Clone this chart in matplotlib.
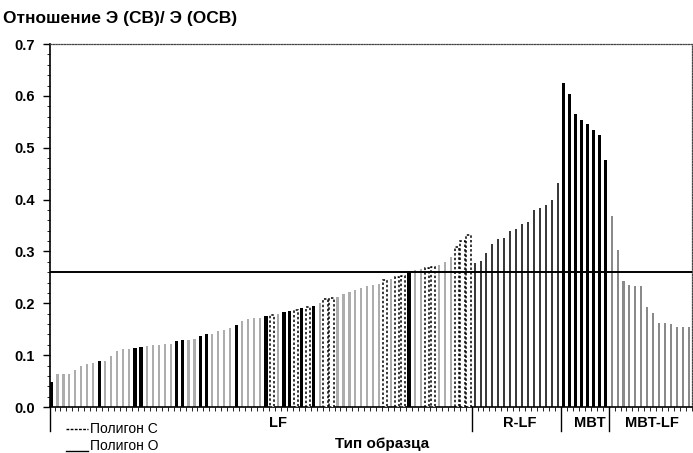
import matplotlib
matplotlib.use("Agg")
import matplotlib.pyplot as plt
from matplotlib.lines import Line2D
import numpy as np

plt.rcParams['font.family'] = ['Liberation Sans', 'DejaVu Sans']

# Ratio values per sample, grouped by sample type
lf_values = [0.048, 0.063, 0.063, 0.063, 0.072, 0.079, 0.082, 0.085, 0.088, 0.088,
             0.098, 0.108, 0.111, 0.112, 0.113, 0.115, 0.118, 0.120, 0.120, 0.121,
             0.122, 0.128, 0.129, 0.129, 0.132, 0.137, 0.140, 0.141, 0.146, 0.149,
             0.152, 0.158, 0.166, 0.170, 0.171, 0.172, 0.176, 0.178, 0.180, 0.183,
             0.185, 0.187, 0.190, 0.192, 0.195, 0.200, 0.208, 0.210, 0.213, 0.218,
             0.222, 0.226, 0.230, 0.233, 0.236, 0.238, 0.245, 0.247, 0.250, 0.252,
             0.262, 0.264, 0.266, 0.268, 0.270, 0.273, 0.280, 0.290, 0.308, 0.320,
             0.332]
# K = Полигон О, D = Полигон С, G = other landfills
lf_kind = ['K', 'G', 'G', 'G', 'G', 'G', 'G', 'G', 'K', 'G',
           'G', 'G', 'G', 'G', 'K', 'K', 'G', 'G', 'G', 'G',
           'G', 'K', 'K', 'G', 'G', 'K', 'K', 'G', 'G', 'G',
           'G', 'K', 'G', 'G', 'G', 'G', 'K', 'D', 'G', 'K',
           'K', 'D', 'K', 'D', 'K', 'G', 'D', 'D', 'G', 'G',
           'G', 'G', 'G', 'G', 'G', 'G', 'D', 'G', 'D', 'D',
           'K', 'G', 'G', 'D', 'D', 'G', 'G', 'G', 'D', 'D',
           'D']
rlf_values = [0.278, 0.282, 0.297, 0.315, 0.324, 0.326, 0.340, 0.344, 0.353, 0.356,
              0.380, 0.384, 0.390, 0.400, 0.432]
mbt_values = [0.625, 0.604, 0.566, 0.554, 0.546, 0.535, 0.525, 0.476]
mbtlf_values = [0.368, 0.302, 0.243, 0.235, 0.233, 0.233, 0.193, 0.181, 0.162, 0.162,
                0.160, 0.155, 0.155, 0.155]

group_names = ['LF', 'R-LF', 'MBT', 'MBT-LF']
reference_level = 0.26

fig = plt.figure(figsize=(6.93, 4.53), dpi=100)
ax = fig.add_axes([0.0722, 0.1015, 0.9264, 0.8013])

n_lf, n_rlf, n_mbt, n_mbtlf = len(lf_values), len(rlf_values), len(mbt_values), len(mbtlf_values)
x_lf = np.arange(n_lf)
x_rlf = np.arange(n_rlf) + n_lf
x_mbt = np.arange(n_mbt) + n_lf + n_rlf
x_mbtlf = np.arange(n_mbtlf) + n_lf + n_rlf + n_mbt
n_total = n_lf + n_rlf + n_mbt + n_mbtlf

lf_values = np.array(lf_values)
kinds = np.array(lf_kind)
g = kinds == 'G'
k = kinds == 'K'
d = kinds == 'D'
ax.bar(x_lf[g], lf_values[g], width=0.36, color='#adadad', linewidth=0, zorder=2)
ax.bar(x_lf[k], lf_values[k], width=0.55, color='black', linewidth=0, zorder=3)
ax.bar(x_lf[d], lf_values[d], width=0.72, facecolor='white', edgecolor='black',
       linewidth=1.1, linestyle=(0, (1.6, 1.4)), zorder=3)
ax.bar(x_rlf, rlf_values, width=0.34, color='#3a3a3a', linewidth=0, zorder=2)
ax.bar(x_mbt, mbt_values, width=0.52, color='black', linewidth=0, zorder=2)
ax.bar(x_mbtlf, mbtlf_values, width=0.34, color='#8a8a8a', linewidth=0, zorder=2)

ax.axhline(reference_level, color='black', lw=1.4, zorder=4)

ax.set_xlim(-0.25, n_total - 0.6)
ax.set_ylim(0, 0.7)

ax.spines['left'].set_linewidth(1.2)
ax.spines['bottom'].set_linewidth(1.2)
for s in ('top', 'right'):
    ax.spines[s].set_linestyle((0, (1, 1.2)))
    ax.spines[s].set_linewidth(0.9)
    ax.spines[s].set_color('#444444')

ax.set_yticks(np.arange(0, 0.71, 0.1))
ax.set_yticklabels([f'{v:.1f}' for v in np.arange(0, 0.71, 0.1)],
                   fontsize=10.5, fontweight='bold')
ax.set_yticks(np.arange(0, 0.701, 0.02), minor=True)
ax.tick_params(axis='y', which='major', length=5, width=1, direction='out', pad=6)
ax.tick_params(axis='y', which='minor', length=2, width=0.6, direction='out')
ax.set_xticks([])
ax.set_xticks(np.arange(n_total) + 0.5, minor=True)
ax.tick_params(axis='x', which='minor', length=3, width=0.6, direction='out')

# group separators below the axis
trans = ax.get_xaxis_transform()
bounds = [-0.25, n_lf - 0.5, n_lf + n_rlf - 0.5, n_lf + n_rlf + n_mbt - 0.5]
for b in bounds:
    ax.plot([b, b], [0, -0.065], color='black', lw=1, transform=trans, clip_on=False)

label_x = [38, (x_rlf[0] + x_rlf[-1]) / 2 + 0.6, (x_mbt[0] + x_mbt[-1]) / 2 + 0.8,
           (x_mbtlf[0] + x_mbtlf[-1]) / 2 + 0.3]
for name, lx in zip(group_names, label_x):
    ax.text(lx, -0.045, name, transform=trans, ha='center', va='center',
            fontsize=10.5, fontweight='bold')

fig.text(382 / 693, 1 - 444 / 453, 'Тип образца', ha='center', va='center',
         fontsize=11, fontweight='bold')
fig.text(3 / 693, 1 - 18 / 453, 'Отношение Э (СВ)/ Э (ОСВ)', ha='left', va='center',
         fontsize=12.5, fontweight='bold')

# legend for the two landfills
fig.add_artist(Line2D([66 / 693, 88 / 693], [1 - 429 / 453] * 2, color='black',
                      lw=1, linestyle=(0, (2, 1))))
fig.text(90 / 693, 1 - 429 / 453, 'Полигон С', ha='left', va='center', fontsize=10)
fig.add_artist(Line2D([66 / 693, 88 / 693], [1 - 451 / 453] * 2, color='black', lw=1))
fig.text(90 / 693, 1 - 446 / 453, 'Полигон О', ha='left', va='center', fontsize=10)

fig.savefig('out.png', dpi=100)
